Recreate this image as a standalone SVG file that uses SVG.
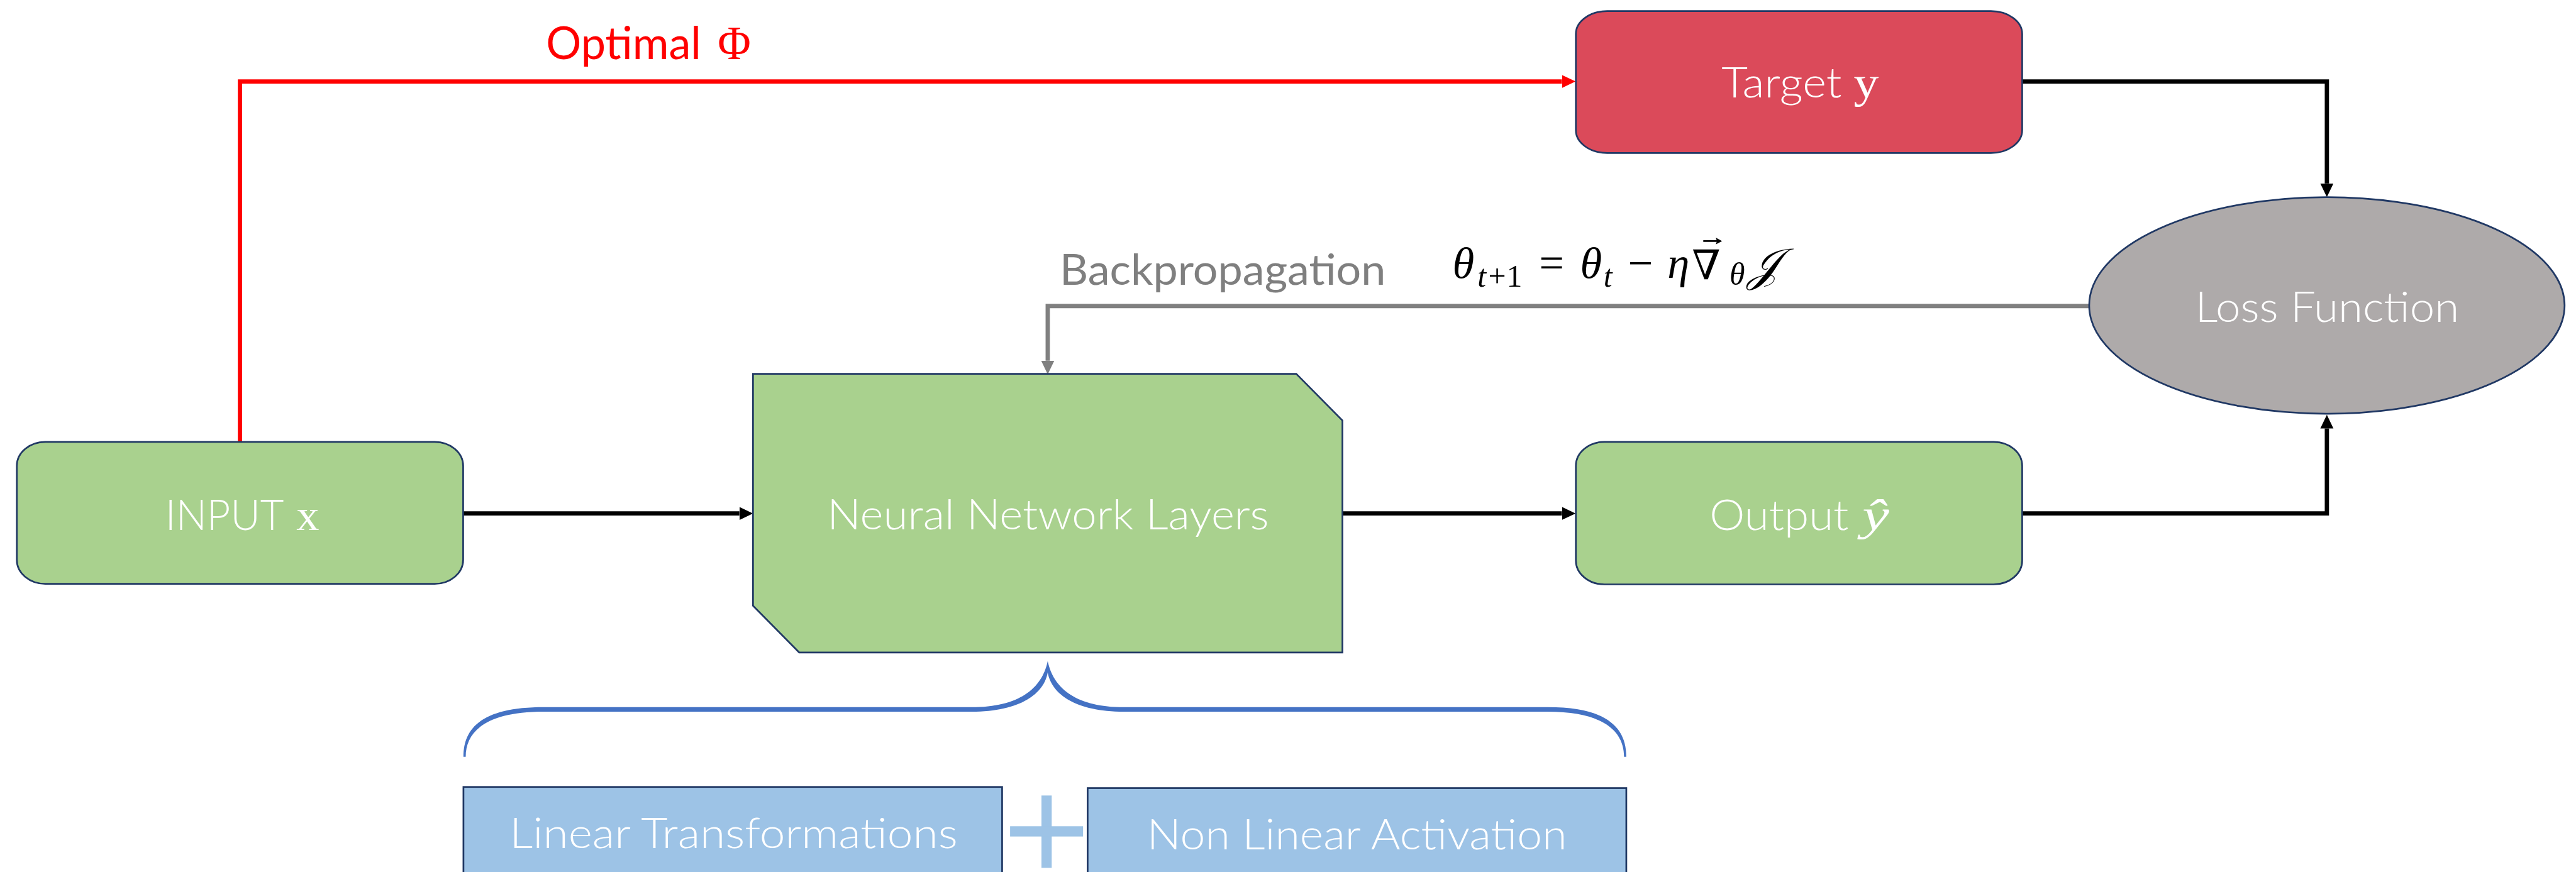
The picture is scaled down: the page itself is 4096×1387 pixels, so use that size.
<svg xmlns="http://www.w3.org/2000/svg" width="4096" height="1387" viewBox="0 0 4096 1387">
  <style>
    .node { stroke: #203864; stroke-width: 3; }
    .green { fill: #A9D18E; }
    .label { font-family: "Lato", "Open Sans", "Liberation Sans", sans-serif; font-weight: 300; font-size: 74px; fill: #FFFFFF; }
    .mathvar { font-family: "Liberation Serif", "DejaVu Serif", serif; font-weight: 400; fill: #FFFFFF; }
    .wire { fill: none; stroke-width: 7.5; stroke-linejoin: miter; }
    .math { font-family: "Liberation Serif", "DejaVu Serif", serif; fill: #000000; }
  </style>
  <defs>
    <marker id="arrow-black" markerUnits="userSpaceOnUse" markerWidth="26" markerHeight="24" refX="0" refY="11.5" orient="auto">
      <path d="M0,0 L24,11.5 L0,23 Z" fill="#000000"/>
    </marker>
    <marker id="arrow-red" markerUnits="userSpaceOnUse" markerWidth="26" markerHeight="24" refX="0" refY="11.5" orient="auto">
      <path d="M0,0 L24,11.5 L0,23 Z" fill="#FF0000"/>
    </marker>
    <marker id="arrow-gray" markerUnits="userSpaceOnUse" markerWidth="26" markerHeight="24" refX="0" refY="11.5" orient="auto">
      <path d="M0,0 L24,11.5 L0,23 Z" fill="#808080"/>
    </marker>
  </defs>

  <g transform="scale(0.90639)">
    <!-- connectors -->
    <g id="connectors">
      <path class="wire" d="M421,775 V143 H2740" stroke="#FF0000" stroke-width="7" marker-end="url(#arrow-red)"/>
      <path class="wire" d="M812,901 H1297" stroke="#000000" marker-end="url(#arrow-black)"/>
      <path class="wire" d="M2355,901 H2740" stroke="#000000" marker-end="url(#arrow-black)"/>
      <path class="wire" d="M3548,143 H4082 V322" stroke="#000000" marker-end="url(#arrow-black)"/>
      <path class="wire" d="M3548,901 H4082 V752" stroke="#000000" marker-end="url(#arrow-black)"/>
      <path class="wire" d="M3665,537 H1838 V633" stroke="#808080" stroke-width="8" marker-end="url(#arrow-gray)"/>

      <text x="958" y="104" font-family="Lato, 'Open Sans', 'Liberation Sans', sans-serif" font-size="78" fill="#FF0000"><tspan textLength="272" lengthAdjust="spacingAndGlyphs">Optimal</tspan><tspan x="1259" font-family="'Liberation Serif', serif" font-size="84" textLength="58" lengthAdjust="spacingAndGlyphs">Φ</tspan></text>

      <text x="1859" y="500" font-family="Lato, 'Open Sans', 'Liberation Sans', sans-serif" font-size="74" fill="#7F7F7F" textLength="572" lengthAdjust="spacingAndGlyphs">Backpropagation</text>

      <!-- update rule: theta_{t+1} = theta_t - eta grad_theta J -->
      <g id="update-rule" class="math">
        <text x="2548" y="488" font-size="78" font-style="italic">θ</text>
        <text y="503" font-size="55"><tspan x="2592" font-style="italic">t</tspan><tspan x="2611">+</tspan><tspan x="2643">1</tspan></text>
        <text x="2700" y="488" font-size="78">=</text>
        <text x="2772" y="488" font-size="78" font-style="italic">θ</text>
        <text x="2813" y="503" font-size="55" font-style="italic">t</text>
        <text x="2856" y="488" font-size="78">−</text>
        <text x="2925" y="488" font-size="78" font-style="italic">η</text>
        <text x="2968" y="490" font-family="'DejaVu Serif', serif" font-size="72">∇</text>
        <!-- vector accent over the nabla -->
        <path d="M2988,423 H3014" stroke="#000000" stroke-width="3" fill="none"/>
        <path d="M3021,423 L3010,417 L3012,423 L3010,429 Z" fill="#000000"/>
        <text x="3034" y="500" font-size="55" font-style="italic">θ</text>
        <text x="3066" y="492" font-family="'DejaVu Serif', 'DejaVu Sans', serif" font-size="80" font-style="italic">𝒥</text>
      </g>
    </g>

    <!-- nodes -->
    <g id="node-input">
      <rect class="node green" x="29.5" y="775.5" width="783" height="249" rx="50" ry="42"/>
      <text class="label" y="930"><tspan x="290" textLength="208" lengthAdjust="spacingAndGlyphs">INPUT</tspan><tspan class="mathvar" x="520" font-size="78" textLength="40" lengthAdjust="spacingAndGlyphs">x</tspan></text>
    </g>

    <g id="node-target">
      <rect class="node" x="2764.5" y="19.5" width="783" height="249" rx="55" ry="40" fill="#DB4A5A"/>
      <text class="label" y="171"><tspan x="3020" textLength="211" lengthAdjust="spacingAndGlyphs">Target</tspan><tspan class="mathvar" x="3252" font-size="78" textLength="44" lengthAdjust="spacingAndGlyphs">y</tspan></text>
    </g>

    <g id="node-loss">
      <ellipse class="node" cx="4082" cy="536" rx="417" ry="190" fill="#AEAAAA"/>
      <text class="label" x="3851" y="565" textLength="463" lengthAdjust="spacingAndGlyphs">Loss Function</text>
    </g>

    <g id="node-layers">
      <polygon class="node green" points="1321,656 2274,656 2355,738 2355,1145 1402,1145 1321,1063"/>
      <text class="label" x="1451" y="929" textLength="775" lengthAdjust="spacingAndGlyphs">Neural Network Layers</text>
    </g>

    <g id="node-output">
      <rect class="node green" x="2764.5" y="775.5" width="783" height="250" rx="50" ry="42"/>
      <text class="label" y="930"><tspan x="2999" textLength="244" lengthAdjust="spacingAndGlyphs">Output</tspan><tspan class="mathvar" x="3267" font-size="78" font-style="italic" textLength="47" lengthAdjust="spacingAndGlyphs">ŷ</tspan></text>
    </g>

    <!-- brace grouping the layer parts -->
    <g id="brace">
      <path fill="#4472C4" d="M813,1328 C813,1276 848,1241 954,1241 L1704,1241 C1788,1241 1828,1208 1838,1160 C1848,1208 1888,1241 1972,1241 L2715,1241 C2818,1241 2853,1276 2853,1328 L2849,1328 C2849,1284 2814,1249 2715,1249 L1972,1249 C1884,1249 1844,1216 1838,1180 C1832,1216 1792,1249 1704,1249 L954,1249 C852,1249 817,1284 817,1328 Z"/>
    </g>

    <g id="node-linear">
      <rect class="node" x="813" y="1381" width="945" height="220" fill="#9DC3E6"/>
      <text class="label" x="894" y="1488" textLength="786" lengthAdjust="spacingAndGlyphs">Linear Transformations</text>
    </g>

    <g id="plus-sign" fill="#9DC3E6">
      <rect x="1827" y="1396" width="18" height="127"/>
      <rect x="1772" y="1450" width="128" height="18"/>
    </g>

    <g id="node-activation">
      <rect class="node" x="1908" y="1383" width="945" height="220" fill="#9DC3E6"/>
      <text class="label" x="2012" y="1490" textLength="737" lengthAdjust="spacingAndGlyphs">Non Linear Activation</text>
    </g>
  </g>
</svg>
